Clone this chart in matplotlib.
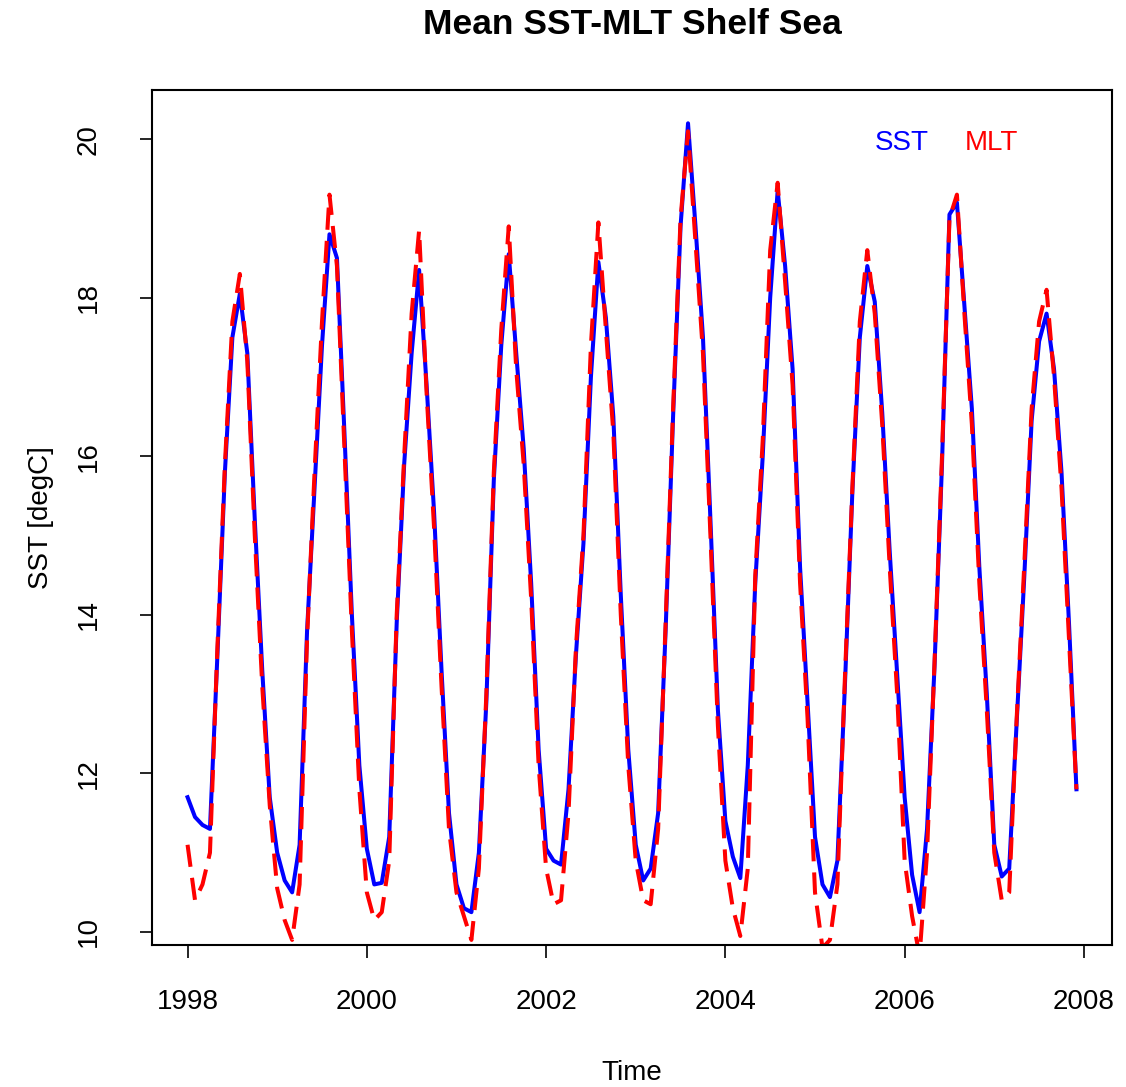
import numpy as np
import matplotlib
matplotlib.use("Agg")
import matplotlib.pyplot as plt

plt.rcParams['font.family'] = ['Liberation Sans', 'DejaVu Sans']
plt.rcParams['lines.scale_dashes'] = False

start_year = 1998
freq = 12

sst = [
    11.7, 11.45, 11.35, 11.3, 13.5, 15.8, 17.5, 18.05, 17.3, 15.2, 13.3, 11.7,
    11.0, 10.65, 10.5, 11.1, 13.8, 15.6, 17.4, 18.8, 18.5, 16.3, 14.0, 12.1,
    11.05, 10.6, 10.62, 11.2, 13.9, 15.9, 17.3, 18.35, 16.9, 15.3, 13.3, 11.5,
    10.6, 10.3, 10.25, 11.0, 12.9, 15.7, 17.4, 18.55, 17.3, 16.1, 14.4, 12.3,
    11.05, 10.9, 10.85, 11.8, 13.5, 14.9, 17.0, 18.45, 17.75, 16.5, 14.25, 12.3,
    11.1, 10.65, 10.8, 11.5, 13.8, 16.5, 18.9, 20.2, 18.9, 17.5, 15.2, 12.8,
    11.4, 10.95, 10.68, 12.1, 14.4, 16.0, 18.0, 19.35, 18.4, 17.1, 14.6, 12.9,
    11.2, 10.6, 10.44, 10.9, 13.1, 15.55, 17.5, 18.4, 17.95, 16.55, 14.8, 13.25,
    11.7, 10.72, 10.25, 11.3, 13.35, 15.9, 19.05, 19.2, 17.9, 16.6, 14.6, 13.0,
    11.1, 10.7, 10.8, 12.65, 14.45, 16.45, 17.45, 17.8, 17.1, 15.8, 13.9, 11.8,
]

mlt = [
    11.1, 10.4, 10.6, 11.0, 13.6, 15.9, 17.7, 18.3, 17.2, 15.0, 13.1, 11.6,
    10.55, 10.15, 9.9, 10.6, 13.7, 15.8, 17.7, 19.3, 18.4, 16.1, 13.8, 11.8,
    10.5, 10.15, 10.25, 10.9, 14.0, 16.0, 17.8, 18.85, 16.8, 15.1, 13.1, 11.3,
    10.5, 10.2, 9.9, 10.8, 13.0, 15.8, 17.6, 18.9, 17.1, 15.9, 14.2, 12.1,
    10.8, 10.35, 10.4, 11.5, 13.6, 15.0, 17.4, 18.95, 17.6, 16.3, 14.0, 12.1,
    10.9, 10.4, 10.35, 11.3, 13.9, 16.6, 19.0, 20.1, 18.7, 17.3, 15.0, 12.6,
    10.9, 10.3, 9.95, 10.8, 14.5, 16.2, 18.6, 19.45, 18.2, 16.9, 14.4, 12.7,
    10.5, 9.8, 9.9, 10.6, 13.2, 15.6, 17.7, 18.6, 17.8, 16.4, 14.6, 13.0,
    10.9, 10.2, 9.7, 11.0, 13.4, 16.0, 19.0, 19.3, 17.8, 16.4, 14.4, 12.8,
    11.0, 10.4, 10.5, 12.7, 14.6, 16.6, 17.7, 18.1, 17.0, 15.6, 13.7, 11.8,
]

xticks = [1998, 2000, 2002, 2004, 2006, 2008]
yticks = [10, 12, 14, 16, 18, 20]
title = "Mean SST-MLT Shelf Sea"
xlabel = "Time"
ylabel = "SST [degC]"
legend_labels = ["SST", "MLT"]
colors = ["blue", "red"]

t = start_year + np.arange(len(sst)) / freq

fig = plt.figure(figsize=(11.26, 10.87), dpi=100)
ax = fig.add_axes([152/1126, 1-945/1087, (1112-152)/1126, (945-90)/1087])

ax.plot(t, sst, color=colors[0], lw=2.9, solid_joinstyle='round')
ax.plot(t, mlt, color=colors[1], lw=2.9, linestyle=(0, (16, 8)))

span = t[-1] - t[0]
ax.set_xlim(t[0] - 0.04*span, t[-1] + 0.04*span)
ax.set_ylim(9.836, 20.62)

ax.set_xticks(xticks)
ax.set_xticklabels([str(v) for v in xticks])
ax.set_yticks(yticks)
ax.set_yticklabels([str(v) for v in yticks], rotation=90, va='center')

ax.tick_params(axis='both', direction='out', length=9, width=1.2, labelsize=20, color='black')
ax.tick_params(axis='x', pad=23)
ax.tick_params(axis='y', pad=27)
for s in ax.spines.values():
    s.set_linewidth(1.5)
    s.set_color('black')

ax.set_xlabel(xlabel, fontsize=20, labelpad=32)
ax.set_ylabel(ylabel, fontsize=20, labelpad=16)
fig.text(632/1126, 1-25/1087, title, fontsize=25.5, fontweight='bold',
         ha='center', va='center')

ax.text(902/1126, 1-143/1087, legend_labels[0], color=colors[0], fontsize=20,
        transform=fig.transFigure, ha='center', va='center')
ax.text(991/1126, 1-143/1087, legend_labels[1], color=colors[1], fontsize=20,
        transform=fig.transFigure, ha='center', va='center')

fig.savefig("out.png", dpi=100)
